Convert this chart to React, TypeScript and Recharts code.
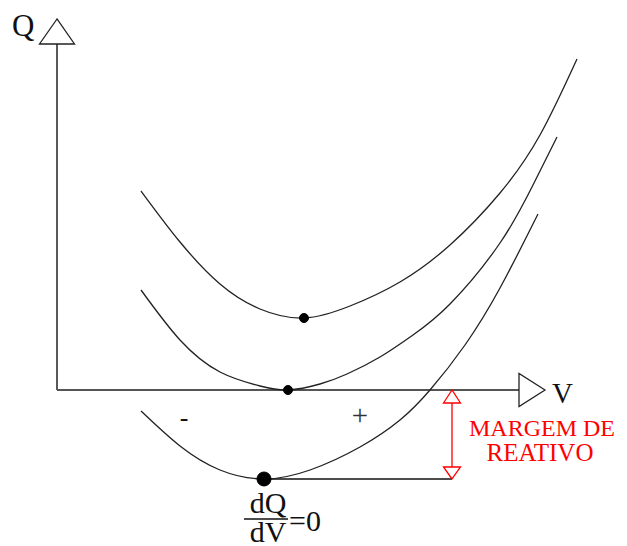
import React from 'react';
import { ComposedChart, XAxis, YAxis, Line, ReferenceLine, ReferenceDot } from 'recharts';

// Q-V curves: V measured right of the Q axis, Q measured above the V axis
const curveHigh = [
  { v: 84, q: 199 }, { v: 123, q: 148 }, { v: 163, q: 106 }, { v: 203, q: 81 },
  { v: 247, q: 72 }, { v: 293, q: 84 }, { v: 343, q: 108 }, { v: 393, q: 145 },
  { v: 443, q: 197 }, { v: 483, q: 255 }, { v: 520, q: 331 },
];
const curveMid = [
  { v: 84, q: 100 }, { v: 123, q: 50 }, { v: 163, q: 18 }, { v: 203, q: 4 },
  { v: 231, q: 0 }, { v: 263, q: 6 }, { v: 290, q: 16 }, { v: 323, q: 33 },
  { v: 356, q: 55 }, { v: 393, q: 86 }, { v: 443, q: 147 }, { v: 476, q: 205 },
  { v: 500, q: 253 },
];
const curveLow = [
  { v: 84, q: -21 }, { v: 123, q: -56 }, { v: 163, q: -80 }, { v: 207, q: -89 },
  { v: 253, q: -80 }, { v: 303, q: -57 }, { v: 343, q: -30 }, { v: 373, q: 0 },
  { v: 408, q: 45 }, { v: 443, q: 102 }, { v: 481, q: 176 },
];
const minPoints = [
  { v: 247, q: 72, r: 4.5 },
  { v: 231, q: 0, r: 4.5 },
  { v: 207, q: -89, r: 7 },
];
const axisEnds = { v: 462, q: 346 };
const marginV = 395;
const marginQ = -89;

const W = 627;
const H = 546;
const FONT = 'Liberation Serif, Times New Roman, serif';

const txt = (s: string, size: number, anchor: string, fill = '#111') => (p: any) => (
  <text
    x={p.cx}
    y={p.cy}
    fontSize={size}
    textAnchor={anchor}
    fill={fill}
    style={{ fontFamily: FONT }}
  >
    {s}
  </text>
);

const triUp = (fill: string, stroke: string, hw: number, h: number) => (p: any) => (
  <polygon
    points={`${p.cx},${p.cy - h} ${p.cx - hw},${p.cy} ${p.cx + hw},${p.cy}`}
    fill={fill}
    stroke={stroke}
    strokeWidth={1.3}
  />
);
const triDown = (fill: string, stroke: string, hw: number, h: number) => (p: any) => (
  <polygon
    points={`${p.cx},${p.cy + h} ${p.cx - hw},${p.cy} ${p.cx + hw},${p.cy}`}
    fill={fill}
    stroke={stroke}
    strokeWidth={1.3}
  />
);
const triRight = (p: any) => (
  <polygon
    points={`${p.cx + 26},${p.cy} ${p.cx},${p.cy - 16.5} ${p.cx},${p.cy + 16.5}`}
    fill="#fff"
    stroke="#222"
    strokeWidth={1.3}
  />
);

export default function App() {
  return (
    <div
      style={{
        position: 'absolute',
        left: 0,
        top: 0,
        width: W,
        height: H,
        background: '#fff',
        fontFamily: FONT,
      }}
    >
      <ComposedChart width={W} height={H} margin={{ top: 0, right: 0, bottom: 0, left: 0 }}>
        <XAxis type="number" dataKey="v" domain={[-57, 570]} hide allowDataOverflow />
        <YAxis type="number" dataKey="q" domain={[-156, 390]} hide allowDataOverflow />

        {/* axes */}
        <ReferenceLine segment={[{ x: 0, y: 0 }, { x: 0, y: axisEnds.q }]} stroke="#222" strokeWidth={1.5} />
        <ReferenceLine segment={[{ x: 0, y: 0 }, { x: axisEnds.v, y: 0 }]} stroke="#555" strokeWidth={1.8} />
        <ReferenceDot x={0} y={axisEnds.q} r={0} shape={triUp('#fff', '#222', 17.5, 25)} />
        <ReferenceDot x={axisEnds.v} y={0} r={0} shape={triRight} />

        {/* margin line and red arrow */}
        <ReferenceLine segment={[{ x: 207, y: marginQ }, { x: marginV, y: marginQ }]} stroke="#111" strokeWidth={1.3} />
        <ReferenceLine segment={[{ x: marginV, y: 0 }, { x: marginV, y: marginQ }]} stroke="#f00" strokeWidth={1.3} />
        <ReferenceDot x={marginV} y={-13} r={0} shape={triUp('#fff', '#f00', 8.5, 13)} />
        <ReferenceDot x={marginV} y={-77} r={0} shape={triDown('#fff', '#f00', 8.5, 12)} />

        <Line data={curveHigh} dataKey="q" type="natural" stroke="#222" strokeWidth={1.3} dot={false} activeDot={false} isAnimationActive={false} />
        <Line data={curveMid} dataKey="q" type="natural" stroke="#222" strokeWidth={1.3} dot={false} activeDot={false} isAnimationActive={false} />
        <Line data={curveLow} dataKey="q" type="natural" stroke="#222" strokeWidth={1.3} dot={false} activeDot={false} isAnimationActive={false} />

        {minPoints.map((m, i) => (
          <ReferenceDot key={i} x={m.v} y={m.q} r={m.r} fill="#000" stroke="#000" />
        ))}

        {/* labels */}
        <ReferenceDot x={-45} y={354} r={0} shape={txt('Q', 31, 'start')} />
        <ReferenceDot x={495} y={-13} r={0} shape={txt('V', 29, 'start')} />
        <ReferenceDot x={127} y={-36} r={0} shape={txt('-', 26, 'middle')} />
        <ReferenceDot x={303} y={-35} r={0} shape={txt('+', 29, 'middle', '#333')} />
        <ReferenceDot x={485} y={-46} r={0} shape={txt('MARGEM  DE', 24, 'middle', '#f00')} />
        <ReferenceDot x={483} y={-71} r={0} shape={txt('REATIVO', 25, 'middle', '#f00')} />
        <ReferenceDot x={211} y={-123} r={0} shape={txt('dQ', 30, 'middle')} />
        <ReferenceLine segment={[{ x: 187, y: -129 }, { x: 231, y: -129 }]} stroke="#111" strokeWidth={1.3} />
        <ReferenceDot x={211} y={-152} r={0} shape={txt('dV', 30, 'middle')} />
        <ReferenceDot x={232} y={-141} r={0} shape={txt('=0', 30, 'start')} />
      </ComposedChart>
    </div>
  );
}
